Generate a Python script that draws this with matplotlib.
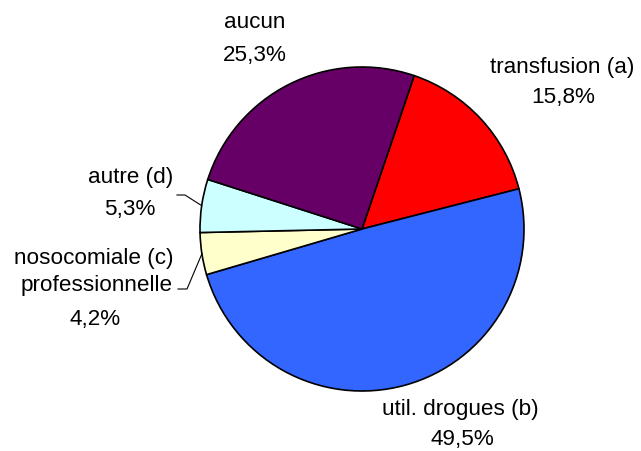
import numpy as np
import matplotlib
matplotlib.use("Agg")
import matplotlib.pyplot as plt

plt.rcParams['font.family'] = ['Liberation Sans', 'DejaVu Sans']

# data, clockwise from the top right
labels = ["transfusion (a)", "util. drogues (b)", "nosocomiale (c)\nprofessionnelle",
          "autre (d)", "aucun"]
values = [15.8, 49.5, 4.2, 5.3, 25.3]
pct_text = ["15,8%", "49,5%", "4,2%", "5,3%", "25,3%"]
colors = ["#FF0000", "#3366FF", "#FFFFCC", "#CCFFFF", "#660066"]

W, H = 641, 451
fig = plt.figure(figsize=(W / 100, H / 100), dpi=100)
ax = fig.add_axes([0, 0, 1, 1])

cx, cy, r = 362, H - 229, 162
wedges, _ = ax.pie(values, colors=colors, startangle=71.2, counterclock=False,
                   center=(cx, cy), radius=r, frame=True,
                   wedgeprops=dict(edgecolor='black', linewidth=1.2))
ax.set_xlim(0, W)
ax.set_ylim(0, H)
ax.set_aspect('equal')
ax.axis('off')

fs = 16.2

def mid_point(w):
    a = np.deg2rad((w.theta1 + w.theta2) / 2)
    return cx + r * np.cos(a), cy + r * np.sin(a)

# label placement (pixel coords, y from top)
ax.text(562, H - 67, labels[0], ha='center', va='center', fontsize=fs)
ax.text(563, H - 98, pct_text[0], ha='center', va='center', fontsize=fs)

ax.text(460, H - 410, labels[1], ha='center', va='center', fontsize=fs)
ax.text(462, H - 440, pct_text[1], ha='center', va='center', fontsize=fs)

ax.text(173, H - 272, labels[2], ha='right', va='center', fontsize=fs,
        linespacing=1.4)
ax.text(95, H - 320, pct_text[2], ha='center', va='center', fontsize=fs)

ax.text(173, H - 178, labels[3], ha='right', va='center', fontsize=fs)
ax.text(130, H - 210, pct_text[3], ha='center', va='center', fontsize=fs)

ax.text(255, H - 23, labels[4], ha='center', va='center', fontsize=fs)
ax.text(255, H - 55, pct_text[4], ha='center', va='center', fontsize=fs)

# leader lines
mx, my = mid_point(wedges[3])
ax.plot([177, 185, mx], [H - 195, H - 195, my], color='black', lw=0.8)
mx, my = mid_point(wedges[2])
ax.plot([178, 187, mx], [H - 289, H - 289, my], color='black', lw=0.8)

fig.savefig("out.png", dpi=100)
